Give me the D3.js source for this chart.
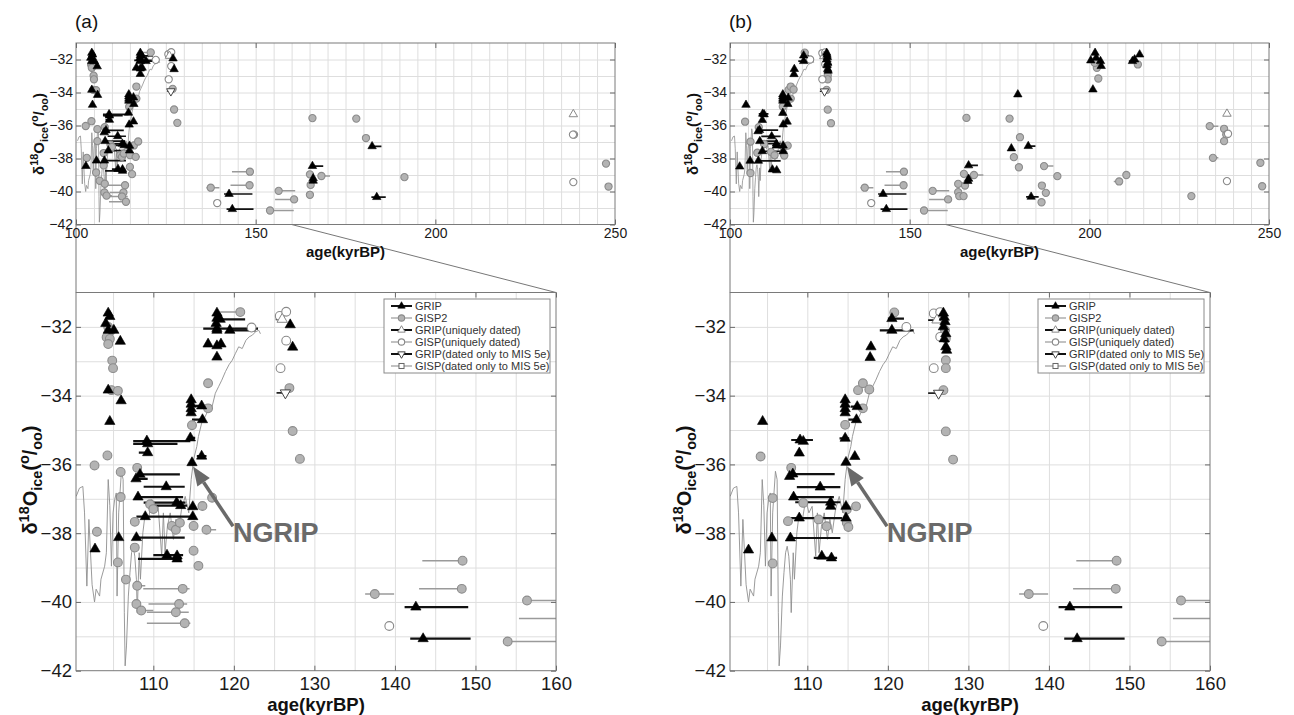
<!DOCTYPE html>
<html><head><meta charset="utf-8">
<script src="https://cdn.jsdelivr.net/npm/d3@7"></script>
<style>body{margin:0;background:#fff;}svg{display:block;}</style>
</head><body><svg id="c" width="1294" height="715"></svg>
<script>
// ---------------- DATA ----------------
// NGRIP record (age kyrBP, d18O)
const ngripAge = [100.42,100.83,101.25,101.46,101.75,102.0,102.4,102.7,102.9,103.33,103.5,103.96,104.17,104.4,104.6,104.8,105.0,105.2,105.4,105.5,105.7,106.04,106.25,106.4,106.5,106.67,106.9,107.1,107.3,107.5,107.7,107.9,108.0,108.25,108.4,108.7,109.0,109.4,109.8,110.2,110.6,111.04,111.25,111.46,111.75,112.1,112.5,112.8,113.1,113.5,113.96,114.4,114.7,115.0,115.4,115.6,116.0,116.46,116.9,117.3,117.7,118.1,118.5,118.96,119.4,119.8,120.2,120.6,121.04,121.5,121.9,122.3,122.7,123.1,123.3];
const ngripD18O = [-36.93,-36.69,-36.64,-37.41,-39.54,-37.6,-39.5,-40.0,-39.63,-39.83,-39.34,-38.96,-38.57,-36.44,-37.2,-38.96,-37.41,-37.02,-36.83,-39.83,-37.41,-36.2,-36.44,-40.3,-41.86,-41.28,-39.83,-39.15,-38.57,-38.38,-38.67,-39.34,-40.31,-38.57,-39.34,-37.99,-37.41,-37.6,-37.02,-37.41,-37.22,-38.67,-37.41,-38.57,-37.8,-37.41,-38.18,-37.6,-37.99,-37.31,-36.93,-37.41,-36.44,-35.86,-35.48,-35.19,-34.8,-34.6,-34.37,-34.32,-33.93,-33.74,-33.55,-33.3,-33.1,-32.97,-32.77,-32.58,-32.63,-32.39,-32.29,-32.24,-32.14,-32.1,-32.2];

// Panel (a): [age, d18O, ageRangeFrom, ageRangeTo]
const gripA = [
 [104.4,-31.6],[104.6,-31.7],[104.1,-31.9],[104.4,-32.1],[105.1,-32.1],[105.9,-32.42],[104.4,-33.84],[106.0,-34.15],[104.6,-34.75],[102.76,-38.46],[105.7,-38.13],
 [117.9,-31.6],[117.9,-31.75],[117.8,-31.9],[117.9,-32.1],
 [118.3,-31.78,118.3,121.4],[117.9,-32.05,116.2,123.0],[119.5,-32.1,119.3,122.7],
 [116.8,-32.5],[117.9,-32.55],[118.4,-32.5],[117.9,-32.88],
 [114.7,-34.12],[114.7,-34.25],[114.7,-34.38],[114.7,-34.5],
 [116.0,-34.3,115.2,116.0],[116.1,-34.7,114.8,116.3],
 [109.2,-35.32,107.5,114.6],[114.6,-35.23,114.4,115.2],[109.3,-35.4,107.5,113.0],
 [109.3,-35.66,108.2,109.5],[116.0,-35.76,115.4,116.6],[114.8,-35.95],
 [108.35,-36.29,108.0,113.3],[107.85,-36.42,107.6,109.3],
 [111.6,-36.65,108.8,113.9],[108.1,-36.95,108.1,113.7],[112.9,-37.11,108.8,114.0],[113.4,-37.2,109.5,114.2],[114.9,-37.23],
 [109.0,-37.52,107.9,115.0],[114.9,-37.52],[107.9,-38.13,107.9,113.9],
 [111.7,-38.64,110.0,113.7],[112.95,-38.66],[112.95,-38.75,108.1,113.5],
 [127.0,-31.94],[127.3,-32.59],
 [142.6,-40.15,141.2,149.1],[143.5,-41.07,141.9,149.4],
 [165.8,-38.46,165.8,168.8],[166.0,-39.2],[166.0,-39.35],[182.4,-37.26,182.4,185.0],[183.7,-40.34,182.2,186.2]
];
const gisp2A = [
 [104.4,-32.0],[104.8,-32.1],[104.2,-32.3],[104.6,-32.35],[104.4,-32.5],[104.9,-32.98],[105.0,-33.2],[104.8,-33.84],[105.6,-33.86],
 [104.3,-35.74],[102.7,-36.03],[105.95,-36.22],[108.0,-36.1],[105.95,-36.95],[103.0,-37.96],[107.7,-37.67],
 [109.6,-37.16],[110.0,-37.3],[112.3,-37.79],[112.8,-37.9],[113.3,-37.7],[115.0,-37.79],[116.1,-37.21],[117.3,-36.97],[116.6,-37.9,116.6,117.8],
 [115.0,-38.51],[115.6,-38.95],[105.6,-38.85],[107.7,-38.42],[106.6,-39.35],
 [108.0,-39.53,108.0,109.0],[113.65,-39.62,108.75,114.5],[107.9,-40.06],[113.2,-40.06,109.4,114.2],[108.5,-40.25,108.5,110.0],[112.8,-40.3,109.2,114.4],[113.9,-40.62,109.2,114.6],
 [114.8,-34.86],[116.8,-33.64],[116.8,-34.37],
 [120.8,-31.57,118.3,121.2],
 [126.9,-33.78],[127.3,-35.03],[128.2,-35.84],
 [148.4,-38.8,143.4,148.4],[148.3,-39.62,143.0,148.3],[137.5,-39.77,136.3,139.9],[156.4,-39.96,156.4,161.0],[154.0,-41.15,154.0,160.6],[160.7,-40.48,155.4,160.7],
 [165.8,-35.55],[178.0,-35.58],[180.7,-36.76],[165.1,-38.96],[168.3,-39.06,168.3,170.7],[165.3,-39.6],[165.1,-40.2],[191.4,-39.13],
 [238.6,-36.55],[247.5,-38.31],[248.2,-39.7]
];
const gripUniqA = [[126.0,-31.78,125.2,126.0],[238.4,-35.32]];
const gispUniqA = [[125.7,-31.68],[126.5,-31.56],[126.5,-32.4],[125.8,-33.2],[122.2,-32.02],[139.3,-40.7],[238.3,-36.55],[238.4,-39.43]];
const gripMisA = [[126.4,-33.92,125.3,126.4]];
const gispMisA = [];

// Panel (b)
const gripB = [
 [102.7,-38.49],[104.45,-34.75],[105.6,-38.14],
 [109.1,-35.29,108.0,110.7],[109.5,-35.33],[109.0,-35.67],
 [107.8,-36.35],[108.2,-36.28,108.0,113.4],[111.6,-36.66,108.7,114.1],[108.3,-36.95,107.9,113.3],
 [112.9,-37.1,108.5,114.1],[112.9,-37.22],[109.0,-37.56,107.9,114.3],[114.8,-37.56],[114.8,-37.22],
 [107.9,-38.14,107.9,114.1],[111.8,-38.67],[113.0,-38.72,110.8,113.7],
 [114.7,-34.12],[114.7,-34.25],[114.7,-34.38],[114.7,-34.5],
 [116.2,-34.32,115.4,116.6],[116.1,-34.7,115.1,116.4],[114.7,-35.24,114.0,115.2],[115.9,-35.77],[114.8,-35.94],
 [117.9,-32.58],[117.8,-32.89],[120.5,-31.76,120.0,122.0],[120.5,-32.1,119.0,123.2],
 [126.9,-31.6],[127.0,-31.72],[127.1,-31.85],[126.9,-32.0],[127.2,-32.2],[127.0,-32.35],[127.2,-32.58],[127.3,-32.68],
 [142.6,-40.15,141.2,149.1],[143.5,-41.07,141.9,149.4],
 [166.4,-38.42,166.4,169.0],[166.4,-39.23],[166.2,-39.37],
 [180.1,-34.12],[183.0,-37.25,183.0,185.0],[178.3,-37.39],[183.8,-40.32,182.4,185.9],
 [201.6,-31.6],[201.9,-31.9],[203.1,-32.1],[200.4,-32.06,200.0,201.5],[203.3,-32.4],[201.0,-33.82,200.3,201.5],
 [212.0,-32.1,211.0,213.0],[214.0,-31.7],[212.6,-32.0]
];
const gisp2B = [
 [104.2,-35.77],[105.7,-36.98],[105.7,-38.88],[108.0,-36.1],[107.6,-37.65],[109.5,-37.12],[111.4,-37.6],[112.4,-37.8],[114.9,-37.31],[116.05,-37.22],[114.9,-37.7],[115.1,-37.82],
 [114.7,-34.85],[116.3,-33.84],[116.9,-33.64],[117.7,-33.82],[116.9,-34.37],[120.8,-31.58],
 [127.1,-32.1],[127.2,-32.34],[127.2,-32.97],[127.2,-33.2],[126.9,-33.84],[127.2,-35.04],[128.1,-35.86],
 [148.4,-38.8,143.4,148.4],[148.3,-39.62,143.0,148.3],[137.5,-39.77,136.3,139.9],[156.4,-39.96,156.4,161.0],[154.0,-41.15,154.0,160.6],[160.7,-40.48,155.4,160.7],
 [165.8,-35.54],[177.8,-35.58],[180.7,-36.71],[179.0,-37.92],[180.4,-38.53],[187.4,-38.46,187.4,190.0],[191.1,-39.07],[186.8,-39.64],[187.9,-40.08],[186.7,-40.65],
 [165.1,-38.93],[167.9,-39.0,167.9,170.5],[163.5,-39.54],[165.4,-39.64],[163.5,-40.04],[163.8,-40.28],[165.0,-40.28],
 [202.1,-32.5],[202.5,-33.15],[213.5,-32.3],[201.5,-32.2],
 [208.3,-39.39,206.8,208.3],[210.3,-39.0],[228.4,-40.28],[233.5,-36.04,233.5,235.9],[234.4,-37.96,234.4,235.9],[237.5,-36.2],[238.1,-36.55],[237.5,-36.95],[247.6,-38.26],[248.1,-39.68]
];
const gripUniqB = [[126.1,-31.8,125.0,126.1],[238.3,-35.29]];
const gispUniqB = [[125.7,-31.61],[126.5,-31.57],[126.5,-32.29],[125.7,-33.2],[122.3,-32.0],[139.3,-40.7],[238.3,-39.37],[238.6,-36.5]];
const gripMisB = [[126.3,-33.93,125.0,126.3]];
const gispMisB = [];

// axes / labels
const topXTicks = [100,150,200,250];
const botXTicks = [110,120,130,140,150,160];
const yTicks = [-42,-40,-38,-36,-34,-32];
const legendLabels = ["GRIP","GISP2","GRIP(uniquely dated)","GISP(uniquely dated)","GRIP(dated only to MIS 5e)","GISP(dated only to MIS 5e)"];
const panelLabels = ["(a)","(b)"];

// ---------------- DRAW ----------------
const FONT = '"Liberation Sans", Arial, Helvetica, sans-serif';
const svg = d3.select('#c');
const OFF = [0, 654];
const topBox = {left:76,right:615,top:43,bottom:224.5,xDom:[100,250],xTicks:topXTicks,tf:14,xPad:4,yPad:3,ms:0.82,lw:1.7};
const botBox = {left:76,right:556,top:292.5,bottom:670.7,xDom:[100.4,160],xTicks:botXTicks,tf:18.5,xPad:6,yPad:4,ms:1,lw:2.2};

function marker(sel, kind, s){
  if(kind==='grip') sel.append('path').attr('d',d3.symbol(d3.symbolTriangle, 46*s*s)()).attr('fill','#000').attr('stroke','#000').attr('stroke-width',0.6);
  else if(kind==='gisp') sel.append('circle').attr('r',4.4*s).attr('fill','#b3b3b3').attr('stroke','#8c8c8c').attr('stroke-width',1.1);
  else if(kind==='gripU') sel.append('path').attr('d',d3.symbol(d3.symbolTriangle, 46*s*s)()).attr('fill','#fff').attr('stroke','#888').attr('stroke-width',1);
  else if(kind==='gispU') sel.append('circle').attr('r',4.4*s).attr('fill','#fff').attr('stroke','#8a8a8a').attr('stroke-width',1.1);
  else if(kind==='gripM') sel.append('path').attr('d',d3.symbol(d3.symbolTriangle, 46*s*s)()).attr('transform','rotate(180)').attr('fill','#fff').attr('stroke','#444').attr('stroke-width',1);
  else if(kind==='gispM') sel.append('rect').attr('x',-3.5*s).attr('y',-3.5*s).attr('width',7*s).attr('height',7*s).attr('fill','#fff').attr('stroke','#666').attr('stroke-width',1);
}

function yTitle(gx, gy, fs){
  const t = svg.append('text').attr('transform',`translate(${gx},${gy}) rotate(-90)`)
    .attr('text-anchor','middle').attr('font-weight','bold').attr('font-size',fs).attr('font-family',FONT).attr('fill','#111');
  const sub = 0.72*fs;
  t.append('tspan').text('δ');
  t.append('tspan').attr('dy',-0.42*fs).attr('font-size',sub).text('18');
  t.append('tspan').attr('dy',0.42*fs).text('O');
  t.append('tspan').attr('dy',0.25*fs).attr('font-size',sub).text('ice');
  t.append('tspan').attr('dy',-0.25*fs).text('(');
  t.append('tspan').attr('dy',-0.42*fs).attr('font-size',sub).text('o');
  t.append('tspan').attr('dy',0.42*fs).text('/');
  t.append('tspan').attr('dy',0.25*fs).attr('font-size',sub).text('oo');
  t.append('tspan').attr('dy',-0.25*fs).text(')');
}

function drawPanel(ox, box, ds, id, isBottom){
  const L = box.left+ox, R = box.right+ox, w = box.right-box.left, h = box.bottom-box.top;
  const x = d3.scaleLinear().domain(box.xDom).range([L,R]);
  const y = d3.scaleLinear().domain([-42,-31]).range([box.bottom, box.top]);
  const g = svg.append('g');
  svg.append('clipPath').attr('id',id).append('rect').attr('x',L).attr('y',box.top).attr('width',w).attr('height',h);
  g.append('rect').attr('x',L).attr('y',box.top).attr('width',w).attr('height',h).attr('fill','#fff');
  // grid
  g.append('g').attr('transform',`translate(0,${box.bottom})`)
    .call(d3.axisBottom(x).tickValues(d3.range(105, box.xDom[1], 5)).tickSize(-h).tickFormat(''))
    .call(s=>{s.select('.domain').remove(); s.selectAll('line').attr('stroke','#dedede').attr('stroke-width',1);});
  g.append('g').attr('transform',`translate(${L},0)`)
    .call(d3.axisLeft(y).tickValues(d3.range(-41,-31,1)).tickSize(-w).tickFormat(''))
    .call(s=>{s.select('.domain').remove(); s.selectAll('line').attr('stroke','#dedede').attr('stroke-width',1);});
  const pg = g.append('g').attr('clip-path',`url(#${id})`);
  // NGRIP
  pg.append('path').datum(d3.zip(ngripAge, ngripD18O))
    .attr('d', d3.line().x(d=>x(d[0])).y(d=>y(d[1])))
    .attr('fill','none').attr('stroke','#8f8f8f').attr('stroke-width',isBottom?0.9:0.8);
  const ranged = (arr)=>arr.filter(d=>d.length>2);
  // range lines
  const lines = [[ds.gisp2,'#9a9a9a',1.5],[ds.gispUniq,'#9a9a9a',1.2],[ds.gispMis,'#9a9a9a',1.2],[ds.grip,'#111',box.lw],[ds.gripUniq,'#111',box.lw*0.8],[ds.gripMis,'#222',box.lw*0.8]];
  lines.forEach(([arr,col,sw])=>{
    pg.append('g').selectAll('line').data(ranged(arr)).join('line')
      .attr('x1',d=>x(d[2])).attr('x2',d=>x(d[3])).attr('y1',d=>y(d[1])).attr('y2',d=>y(d[1]))
      .attr('stroke',col).attr('stroke-width',sw);
  });
  const order = [['gisp2','gisp'],['gispUniq','gispU'],['gispMis','gispM'],['gripUniq','gripU'],['gripMis','gripM'],['grip','grip']];
  order.forEach(([key,kind])=>{
    pg.append('g').selectAll('g').data(ds[key]).join('g')
      .attr('transform',d=>`translate(${x(d[0])},${y(d[1])})`)
      .each(function(){ marker(d3.select(this), kind, box.ms); });
  });
  // box
  g.append('rect').attr('x',L).attr('y',box.top).attr('width',w).attr('height',h).attr('fill','none').attr('stroke','#7a7a7a').attr('stroke-width',1);
  // axes
  const styleAx = (s, fs)=>{ s.select('.domain').remove(); s.selectAll('line').attr('stroke','#6a6a6a');
    s.selectAll('text').attr('font-size',fs).attr('font-family',FONT).attr('fill','#1a1a1a'); };
  g.append('g').attr('transform',`translate(0,${box.bottom})`)
    .call(d3.axisBottom(x).tickValues(box.xTicks).tickSizeInner(-5).tickSizeOuter(0).tickPadding(box.xPad).tickFormat(d3.format('d')))
    .call(s=>styleAx(s, box.tf));
  g.append('g').attr('transform',`translate(0,${box.top})`)
    .call(d3.axisTop(x).tickValues(box.xTicks).tickSizeInner(-5).tickSizeOuter(0).tickFormat(''))
    .call(s=>styleAx(s, box.tf));
  g.append('g').attr('transform',`translate(${L},0)`)
    .call(d3.axisLeft(y).tickValues(yTicks).tickSizeInner(-5).tickSizeOuter(0).tickPadding(box.yPad).tickFormat(d3.format('d')))
    .call(s=>styleAx(s, box.tf));
  g.append('g').attr('transform',`translate(${R},0)`)
    .call(d3.axisRight(y).tickValues(yTicks).tickSizeInner(-5).tickSizeOuter(0).tickFormat(''))
    .call(s=>styleAx(s, box.tf));
  return {x,y};
}

[0,1].forEach(i=>{
  const ox = OFF[i];
  const ds = i===0 ? {grip:gripA,gisp2:gisp2A,gripUniq:gripUniqA,gispUniq:gispUniqA,gripMis:gripMisA,gispMis:gispMisA}
                   : {grip:gripB,gisp2:gisp2B,gripUniq:gripUniqB,gispUniq:gispUniqB,gripMis:gripMisB,gispMis:gispMisB};
  // zoom connector lines (drawn first, behind)
  const tx = d3.scaleLinear().domain(topBox.xDom).range([topBox.left+ox, topBox.right+ox]);
  svg.append('line').attr('x1',tx(100)).attr('y1',topBox.bottom).attr('x2',botBox.left+ox).attr('y2',botBox.top).attr('stroke','#777').attr('stroke-width',1);
  svg.append('line').attr('x1',tx(160)).attr('y1',topBox.bottom).attr('x2',botBox.right+ox).attr('y2',botBox.top).attr('stroke','#777').attr('stroke-width',1);

  drawPanel(ox, topBox, ds, 'clipT'+i, false);
  const sc = drawPanel(ox, botBox, ds, 'clipB'+i, true);

  // titles
  svg.append('text').attr('x',75+ox).attr('y',28).attr('font-size',19).attr('font-family',FONT).attr('fill','#111').text(panelLabels[i]);
  svg.append('text').attr('x',(topBox.left+topBox.right)/2+ox).attr('y',257).attr('text-anchor','middle').attr('font-size',15).attr('font-weight','bold').attr('font-family',FONT).attr('fill','#111').text('age(kyrBP)');
  svg.append('text').attr('x',(botBox.left+botBox.right)/2+ox).attr('y',711).attr('text-anchor','middle').attr('font-size',18.5).attr('font-weight','bold').attr('font-family',FONT).attr('fill','#111').text('age(kyrBP)');
  yTitle(44+ox, 134, 15);
  yTitle(37+ox, 480, 20);

  // NGRIP annotation
  const tip = [sc.x(114.93), sc.y(-36.06)], tail = [sc.x(119.9), sc.y(-37.8)];
  const dx = tip[0]-tail[0], dy = tip[1]-tail[1], len = Math.hypot(dx,dy), ux = dx/len, uy = dy/len;
  const hl = 19, hw = 7.5;
  const base = [tip[0]-hl*ux, tip[1]-hl*uy];
  svg.append('line').attr('x1',tail[0]).attr('y1',tail[1]).attr('x2',base[0]).attr('y2',base[1]).attr('stroke','#6a6a6a').attr('stroke-width',3.5);
  svg.append('path').attr('d',`M${tip[0]},${tip[1]}L${base[0]+hw*uy},${base[1]-hw*ux}L${base[0]-hw*uy},${base[1]+hw*ux}Z`).attr('fill','#6a6a6a');
  svg.append('text').attr('x',sc.x(119.9)).attr('y',sc.y(-38.25)).attr('font-size',27).attr('font-weight','bold').attr('font-family',FONT).attr('fill','#6a6a6a').text('NGRIP');

  // legend
  const lx = 384+ox, ly = 299, lw = 166, lh = 74;
  const lg = svg.append('g');
  lg.append('rect').attr('x',lx).attr('y',ly).attr('width',lw).attr('height',lh).attr('fill','#fff').attr('stroke','#8a8a8a').attr('stroke-width',1);
  const kinds = ['grip','gisp','gripU','gispU','gripM','gispM'];
  const lcol = ['#111','#999','#111','#999','#111','#999'];
  const lsw = [2,1.2,2,1.2,2,1.2];
  legendLabels.forEach((lab,k)=>{
    const yy = ly + 7 + k*12;
    lg.append('line').attr('x1',lx+7).attr('x2',lx+28).attr('y1',yy).attr('y2',yy).attr('stroke',lcol[k]).attr('stroke-width',lsw[k]);
    marker(lg.append('g').attr('transform',`translate(${lx+17.5},${yy})`), kinds[k], 0.72);
    lg.append('text').attr('x',lx+31).attr('y',yy+4).attr('font-size',11).attr('font-family',FONT).attr('fill','#333').text(lab);
  });
});
</script></body></html>
